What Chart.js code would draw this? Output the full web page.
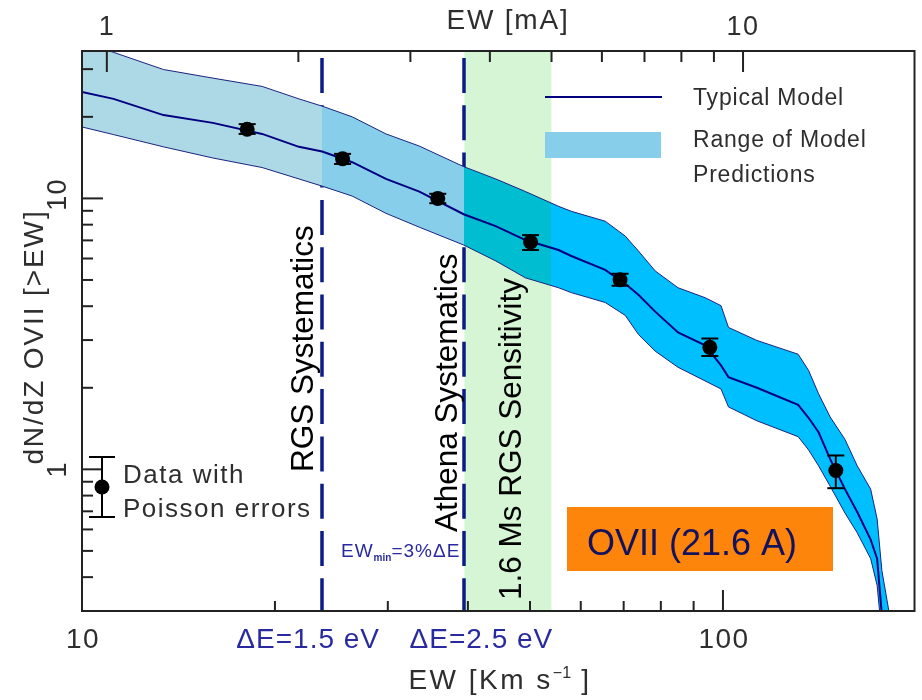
<!DOCTYPE html>
<html>
<head>
<meta charset="utf-8">
<title>OVII cumulative EW distribution</title>
<script src="https://cdn.jsdelivr.net/npm/chart.js@4.4.1/dist/chart.umd.min.js"></script>
<style>
  html, body { margin: 0; padding: 0; background: #fff; }
  #wrap { width: 922px; height: 700px; }
</style>
</head>
<body>
<div id="wrap"><canvas id="ewChart" width="922" height="700"></canvas></div>
<script>
// model curves, EW in km/s
const modelEW = [10, 11.2, 13.4, 16, 19.1, 21.8, 23.7, 26.4, 29.8, 33.6, 39.4, 44.2, 49.2, 55.4, 58, 65.5, 70.4,
  73.8, 78.4, 85.1, 93.8, 99.3, 102, 113, 131, 136, 141, 147, 155, 162, 170, 174, 177, 182];
const modelTypical = [24.7, 23.3, 20.3, 19.0, 17.3, 15.5, 14.9, 13.6, 11.8, 10.6, 8.74, 7.90, 7.02, 6.45, 6.13, 5.45, 4.84,
  4.41, 3.82, 3.20, 2.87, 2.42, 2.19, 2.00, 1.73, 1.55, 1.37, 1.09, 0.845, 0.696, 0.55, 0.468, 0.289, 0.147];
const modelHigh = [37.9, 34.6, 29.9, 27.8, 25.9, 23.3, 21.9, 20.0, 17.3, 15.6, 13.1, 11.8, 10.6, 9.35, 8.96, 8.24, 7.26,
  6.40, 5.40, 4.68, 4.30, 4.02, 3.34, 2.99, 2.66, 2.32, 1.90, 1.56, 1.29, 1.03, 0.845, 0.656, 0.423, 0.289];
const modelLow = [18.35, 17.2, 15.5, 14.1, 13.0, 11.8, 11.1, 10.2, 8.81, 7.83, 6.73, 5.88, 5.09, 4.68, 4.49, 4.13, 3.70,
  3.15, 2.73, 2.38, 2.12, 1.98, 1.70, 1.51, 1.32, 1.18, 1.03, 0.866, 0.690, 0.583, 0.468, 0.373, 0.244, 0.147];

// measured points with Poisson errors
const dataEW = [18.1, 25.5, 35.9, 50.1, 69.1, 95.4, 150];
const dataN = [18.0, 14.0, 10.0, 6.90, 5.01, 2.82, 0.99];
const dataErrLow = [17.3, 13.4, 9.6, 6.45, 4.76, 2.62, 0.852];
const dataErrHigh = [18.8, 14.6, 10.4, 7.32, 5.27, 3.04, 1.125];

// axes
const xTickLabels = [10, 100];
const yTickLabels = [1, 10];
const topTickLabels = [1, 10];
const systematicsEW = [23.7, 39.5];
const systematicsLabels = ['ΔE=1.5 eV', 'ΔE=2.5 eV'];
const sensitivityEW = [39.5, 54];

const NAVY = '#000080';
const DASH_NAVY = '#0b1c86';
const INK = '#2e2e2e';
const LABEL_BLUE = '#2a2aa0';
const bandColors = ['#add8e6', '#87ceeb', '#00bdd2', '#00bfff'];
const FONT = '"Liberation Sans", Arial, sans-serif';

function toXY(xs, ys) {
  return xs.map((x, i) => ({ x: x, y: ys[i] }));
}

// band colour changes at the systematics lines and sensitivity edge
function bandFill(context) {
  const chart = context.chart;
  const area = chart.chartArea;
  if (!area) return bandColors[3];
  const xs = chart.scales.x;
  const edges = [systematicsEW[0], systematicsEW[1], sensitivityEW[1]];
  const w = area.right - area.left;
  const g = chart.ctx.createLinearGradient(area.left, 0, area.right, 0);
  let prev = 0;
  edges.forEach((ew, i) => {
    const p = Math.min(1, Math.max(0, (xs.getPixelForValue(ew) - area.left) / w));
    g.addColorStop(prev, bandColors[i]);
    g.addColorStop(p, bandColors[i]);
    prev = p;
  });
  g.addColorStop(prev, bandColors[3]);
  g.addColorStop(1, bandColors[3]);
  return g;
}

function seg(ctx, x1, y1, x2, y2) {
  ctx.beginPath();
  ctx.moveTo(x1, y1);
  ctx.lineTo(x2, y2);
  ctx.stroke();
}

// text runs drawn side by side, centred on x, y is the baseline
function runs(ctx, parts, x, y, opts) {
  ctx.save();
  ctx.translate(x, y);
  if (opts.rotate) ctx.rotate(opts.rotate);
  ctx.fillStyle = opts.color || INK;
  ctx.textAlign = 'left';
  ctx.textBaseline = 'alphabetic';
  let total = 0;
  parts.forEach(p => {
    ctx.font = p.font;
    ctx.letterSpacing = (p.spacing || 0) + 'px';
    p.w = ctx.measureText(p.t).width;
    total += p.w;
  });
  let cx = opts.align === 'left' ? 0 : -total / 2;
  parts.forEach(p => {
    ctx.font = p.font;
    ctx.letterSpacing = (p.spacing || 0) + 'px';
    ctx.fillText(p.t, cx, p.dy || 0);
    cx += p.w;
  });
  ctx.restore();
}

function label(ctx, t, x, y, size, spacing, opts) {
  runs(ctx, [{ t: t, font: size + 'px ' + FONT, spacing: spacing }], x, y, opts || {});
}

function logTicks(min, max) {
  const out = [];
  for (let e = Math.floor(Math.log10(min)); Math.pow(10, e) <= max; e++) {
    for (let m = 1; m <= 9; m++) {
      const v = m * Math.pow(10, e);
      if (v >= min * 1.001 && v <= max * 0.999) out.push({ v: v, major: m === 1 });
    }
  }
  return out;
}

const backdrop = {
  id: 'backdrop',
  beforeDraw(chart) {
    const ctx = chart.ctx;
    const a = chart.chartArea;
    const xs = chart.scales.x;
    ctx.save();
    ctx.fillStyle = '#fff';
    ctx.fillRect(0, 0, chart.width, chart.height);
    // sensitivity band
    const gx0 = xs.getPixelForValue(sensitivityEW[0]);
    const gx1 = xs.getPixelForValue(sensitivityEW[1]);
    ctx.fillStyle = '#d5f5d5';
    ctx.fillRect(gx0, a.top, gx1 - gx0, a.bottom - a.top);
    // systematics limits
    ctx.strokeStyle = DASH_NAVY;
    ctx.lineWidth = 3.5;
    ctx.setLineDash([35, 12.3]);
    systematicsEW.forEach(ew => {
      const px = Math.round(xs.getPixelForValue(ew));
      seg(ctx, px, a.top + 7, px, a.bottom);
    });
    ctx.restore();
  }
};

const overlay = {
  id: 'overlay',
  afterDatasetsDraw(chart) {
    const ctx = chart.ctx;
    const a = chart.chartArea;
    const xs = chart.scales.x;
    const ys = chart.scales.y;
    const xt = chart.scales.xTop;
    ctx.save();

    // error bars
    ctx.strokeStyle = '#000';
    ctx.lineWidth = 2;
    dataEW.forEach((ew, i) => {
      const px = xs.getPixelForValue(ew);
      const lo = ys.getPixelForValue(dataErrLow[i]);
      const hi = ys.getPixelForValue(dataErrHigh[i]);
      seg(ctx, px, lo, px, hi);
      seg(ctx, px - 8.5, lo, px + 8.5, lo);
      seg(ctx, px - 8.5, hi, px + 8.5, hi);
    });

    // frame
    ctx.strokeStyle = '#222';
    ctx.lineWidth = 2;
    ctx.strokeRect(a.left, a.top, a.right - a.left, a.bottom - a.top);

    // inward ticks
    ctx.lineWidth = 2;
    logTicks(xs.min, xs.max).forEach(t => {
      const px = xs.getPixelForValue(t.v);
      seg(ctx, px, a.bottom, px, a.bottom - (t.major ? 21 : 10));
    });
    logTicks(xt.min, xt.max).forEach(t => {
      const px = xt.getPixelForValue(t.v);
      seg(ctx, px, a.top, px, a.top + (t.major ? 21 : 11));
    });
    logTicks(ys.min, ys.max).forEach(t => {
      const py = ys.getPixelForValue(t.v);
      seg(ctx, a.left, py, a.left + (t.major ? 21 : 11), py);
    });

    // tick labels
    xTickLabels.forEach(v => label(ctx, String(v), xs.getPixelForValue(v) + 1, 648, 28, 1.4));
    topTickLabels.forEach(v => label(ctx, String(v), xt.getPixelForValue(v), 35, 27, 1.4));
    yTickLabels.forEach(v => {
      const py = ys.getPixelForValue(v);
      label(ctx, String(v), 66, py + (v >= 10 ? -4 : 0), 27, 1.4, { rotate: -Math.PI / 2 });
    });
    systematicsEW.forEach((ew, i) => {
      label(ctx, systematicsLabels[i], xs.getPixelForValue(ew) - 14 + i * 31, 648, 28, 1.0, { color: LABEL_BLUE });
    });

    // axis titles
    runs(ctx, [
      { t: 'EW [Km s', font: '28px ' + FONT, spacing: 2.5 },
      { t: '\u22121', font: '16px ' + FONT, spacing: 0, dy: -11 },
      { t: ' ]', font: '28px ' + FONT, spacing: 2.5 }
    ], 500, 689, {});
    label(ctx, 'EW [mA]', 508, 29, 28, 1.8);
    label(ctx, 'dN/dZ OVII [>EW]', 43, 337, 28, 1.9, { rotate: -Math.PI / 2 });

    // EW_min note
    runs(ctx, [
      { t: 'EW', font: '19px ' + FONT, spacing: 1 },
      { t: 'min', font: 'bold 10px ' + FONT, spacing: 0, dy: 4 },
      { t: '=3%ΔE', font: '19px ' + FONT, spacing: 1 }
    ], 341, 557, { align: 'left', color: LABEL_BLUE });

    // model legend
    ctx.strokeStyle = NAVY;
    ctx.lineWidth = 2;
    seg(ctx, 545, 97, 662, 97);
    ctx.fillStyle = bandColors[1];
    ctx.fillRect(545, 132, 116, 26);
    label(ctx, 'Typical Model', 693, 105, 23, 0.8, { align: 'left' });
    label(ctx, 'Range of Model', 693, 147, 23, 0.8, { align: 'left' });
    label(ctx, 'Predictions', 693, 182, 23, 0.8, { align: 'left' });

    // data legend
    ctx.strokeStyle = '#000';
    ctx.fillStyle = '#000';
    ctx.lineWidth = 2;
    seg(ctx, 102, 457, 102, 517);
    seg(ctx, 89, 457, 115, 457);
    seg(ctx, 89, 517, 115, 517);
    ctx.beginPath();
    ctx.arc(102, 487, 7.5, 0, Math.PI * 2);
    ctx.fill();
    label(ctx, 'Data with', 123, 483, 26, 1.5, { align: 'left' });
    label(ctx, 'Poisson errors', 123, 517, 26, 1.5, { align: 'left' });

    // vertical annotations
    label(ctx, 'RGS Systematics', 313, 472, 31.5, 0, { align: 'left', rotate: -Math.PI / 2, color: '#000' });
    label(ctx, 'Athena Systematics', 457, 532, 31.5, 0, { align: 'left', rotate: -Math.PI / 2, color: '#000' });
    label(ctx, '1.6 Ms RGS Sensitivity', 521, 600, 31.5, 0, { align: 'left', rotate: -Math.PI / 2, color: '#000' });

    // line label box
    ctx.fillStyle = '#fd850c';
    ctx.fillRect(567, 507, 266, 64);
    label(ctx, 'OVII (21.6 A)', 587, 555, 36, 0, { align: 'left', color: '#12125e' });

    ctx.restore();
  }
};

new Chart(document.getElementById('ewChart'), {
  type: 'line',
  data: {
    datasets: [
      {
        label: 'Data with Poisson errors',
        type: 'scatter',
        data: toXY(dataEW, dataN),
        pointRadius: 7.5,
        pointBackgroundColor: '#000',
        pointBorderWidth: 0,
        showLine: false,
        order: 0
      },
      {
        label: 'Typical Model',
        data: toXY(modelEW, modelTypical),
        borderColor: NAVY,
        borderWidth: 2,
        pointRadius: 0,
        fill: false,
        tension: 0,
        order: 1
      },
      {
        label: 'Range of Model Predictions',
        data: toXY(modelEW, modelHigh),
        borderColor: '#1a237e',
        borderWidth: 1,
        backgroundColor: bandFill,
        pointRadius: 0,
        fill: '+1',
        tension: 0,
        order: 2
      },
      {
        label: 'lower',
        data: toXY(modelEW, modelLow),
        borderColor: '#1a237e',
        borderWidth: 1,
        pointRadius: 0,
        fill: false,
        tension: 0,
        order: 3
      }
    ]
  },
  options: {
    responsive: false,
    animation: false,
    events: [],
    layout: { padding: { left: 82, top: 51, right: 5, bottom: 89 } },
    scales: {
      x: { type: 'logarithmic', min: 10, max: 199, display: false },
      xTop: { type: 'logarithmic', position: 'top', axis: 'x', min: 0.914, max: 18.6, display: false },
      y: { type: 'logarithmic', min: 0.31, max: 35, display: false }
    },
    plugins: {
      legend: { display: false },
      tooltip: { enabled: false },
      filler: { drawTime: 'beforeDatasetsDraw' }
    }
  },
  plugins: [backdrop, overlay]
});
</script>
</body>
</html>
